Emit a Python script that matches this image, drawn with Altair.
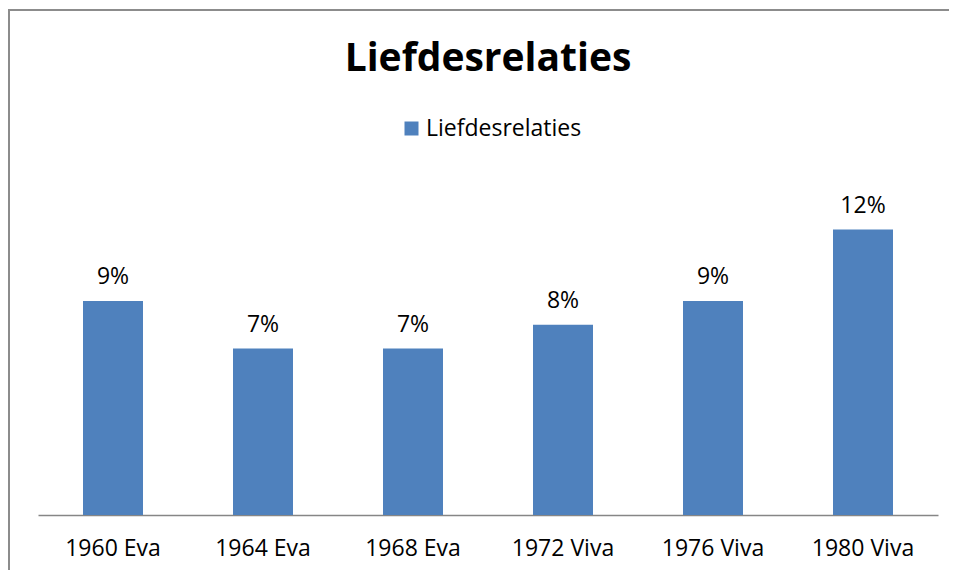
import altair as alt
import pandas as pd

categories = ["1960 Eva", "1964 Eva", "1968 Eva", "1972 Viva", "1976 Viva", "1980 Viva"]
values = [9, 7, 7, 8, 9, 12]
series_name = "Liefdesrelaties"
chart_title = "Liefdesrelaties"

df = pd.DataFrame({"cat": categories, "val": values, "series": [series_name] * len(categories)})

FONT = "Open Sans"
BAR = "#4F81BD"

base = alt.Chart(df)

bars = base.mark_bar(color=BAR).encode(
    x=alt.X("cat:N", sort=categories, title=None,
            scale=alt.Scale(paddingInner=0.6, paddingOuter=0.3),
            axis=alt.Axis(labelAngle=0, ticks=False, domainColor="#868686", domainWidth=1.5,
                          labelFont=FONT, labelFontSize=23, labelColor="#000000", labelPadding=22)),
    y=alt.Y("val:Q", scale=alt.Scale(domain=[0, 14]), axis=None),
    color=alt.Color("series:N", scale=alt.Scale(range=[BAR]),
                    legend=alt.Legend(title=None, orient="none", legendX=362, legendY=-65,
                                      symbolType="square", symbolSize=196, symbolStrokeWidth=0,
                                      labelFont=FONT, labelFontSize=23, labelColor="#000000",
                                      labelOffset=3)),
)

labels = base.transform_calculate(lbl="datum.val + '%'").mark_text(
    font=FONT, fontSize=23, color="#000000", baseline="alphabetic", dy=-17
).encode(
    x=alt.X("cat:N", sort=categories),
    y=alt.Y("val:Q"),
    text="lbl:N",
)

frame_df = pd.DataFrame({"a": [0]})
title_mark = alt.Chart(frame_df).mark_text(
    text=chart_title, font=FONT, fontSize=39, fontWeight="bold", color="#000000",
    align="center", baseline="alphabetic"
).encode(x=alt.value(450), y=alt.value(-111))

border_top = alt.Chart(frame_df).mark_rect(color="#8c8c8c", strokeWidth=0).encode(
    x=alt.value(-30), x2=alt.value(935), y=alt.value(-173), y2=alt.value(-171)
)
border_left = alt.Chart(frame_df).mark_rect(color="#8c8c8c", strokeWidth=0).encode(
    x=alt.value(-30), x2=alt.value(-28), y=alt.value(-173), y2=alt.value(410)
)

chart = alt.layer(bars, labels, title_mark, border_top, border_left).properties(
    width=900,
    height=333,
    autosize=alt.AutoSizeParams(type="none"),
    padding={"left": 30, "top": 174, "right": 11, "bottom": 55},
).configure_view(strokeWidth=0)

chart.save("out.html", embed_options={"renderer": "svg", "actions": False})
